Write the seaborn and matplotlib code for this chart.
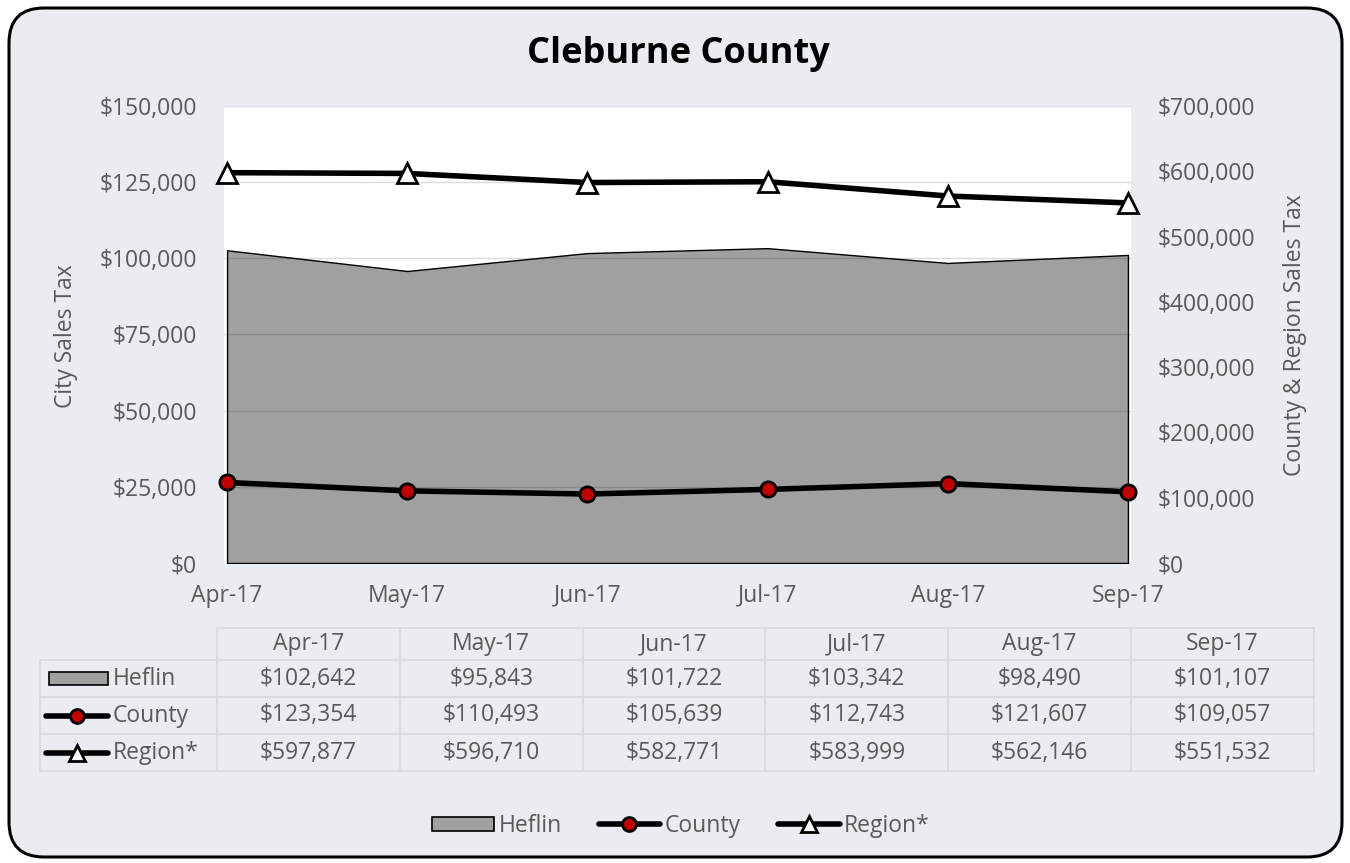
import matplotlib
matplotlib.use("Agg")
import matplotlib.pyplot as plt
import seaborn as sns
import pandas as pd
from matplotlib.patches import FancyBboxPatch, Rectangle, Patch
from matplotlib.lines import Line2D
from matplotlib.ticker import FuncFormatter

# ---------------- data ----------------
months = ["Apr-17", "May-17", "Jun-17", "Jul-17", "Aug-17", "Sep-17"]
heflin = [102642, 95843, 101722, 103342, 98490, 101107]
county = [123354, 110493, 105639, 112743, 121607, 109057]
region = [597877, 596710, 582771, 583999, 562146, 551532]
left_ticks = [0, 25000, 50000, 75000, 100000, 125000, 150000]
right_ticks = [0, 100000, 200000, 300000, 400000, 500000, 600000, 700000]
series_names = ["Heflin", "County", "Region*"]

sns.set_theme(style="white")
plt.rcParams['font.family'] = ['Open Sans', 'DejaVu Sans']

TXT = '#595959'
GRAY = '#A0A0A0'
RED = '#C00000'
FS = 16.5
W, H = 1350, 863


def fx(x):
    return x / W


def fy(y):
    return 1 - y / H


fig = plt.figure(figsize=(13.5, 8.63), dpi=100, facecolor='white')

# rounded background panel (inches coordinates)
bg = FancyBboxPatch((0.09, 0.06), 13.33, 8.49,
                    boxstyle="round,pad=0,rounding_size=0.35",
                    transform=fig.dpi_scale_trans, facecolor='#E9ECF1',
                    edgecolor='black', lw=2.2, zorder=-10)
fig.patches.append(bg)

df = pd.DataFrame({'x': range(len(months)), 'month': months,
                   'heflin': heflin, 'county': county, 'region': region})

ax = fig.add_axes([fx(224), fy(563), (1131 - 224) / W, (563 - 106) / H])
ax.set_facecolor('white')
ax.fill_between(df['x'], df['heflin'], 0, facecolor=GRAY, edgecolor='black',
                lw=1, zorder=1)
ax.set_ylim(0, 150000)
ax.set_xlim(-0.017, len(months) - 1 + 0.017)
ax.set_yticks(left_ticks)
ax.yaxis.set_major_formatter(FuncFormatter(lambda v, p: f"${v:,.0f}"))
ax.set_xticks(df['x'])
ax.set_xticklabels(months)
ax.yaxis.grid(True, color='black', alpha=0.14, lw=1)
ax.set_axisbelow(False)
ax.tick_params(axis='y', length=0, pad=19.5, labelsize=FS, labelcolor=TXT)
ax.tick_params(axis='x', length=0, pad=15, labelsize=FS, labelcolor=TXT)
for s in ax.spines.values():
    s.set_visible(False)

ax2 = ax.twinx()
sns.lineplot(data=df, x='x', y='county', ax=ax2, color='black', lw=4,
             marker='o', markersize=11, markerfacecolor=RED,
             markeredgecolor='black', markeredgewidth=2, zorder=5,
             clip_on=False)
sns.lineplot(data=df, x='x', y='region', ax=ax2, color='black', lw=4,
             marker='^', markersize=15, markerfacecolor='white',
             markeredgecolor='black', markeredgewidth=2, zorder=5,
             clip_on=False)
ax2.set_ylim(0, 700000)
ax2.set_yticks(right_ticks)
ax2.yaxis.set_major_formatter(FuncFormatter(lambda v, p: f"${v:,.0f}"))
ax2.tick_params(axis='y', length=0, pad=19.5, labelsize=FS, labelcolor=TXT)
ax2.set_ylabel('')
ax2.set_xlabel('')
ax.set_xlabel('')
ax.set_ylabel('')
for s in ax2.spines.values():
    s.set_visible(False)
ax2.set_xlim(ax.get_xlim())

# axis titles
fig.text(fx(66), fy(336), "City Sales Tax", rotation=90, ha='center',
         va='center', fontsize=FS, color=TXT)
fig.text(fx(1295), fy(335), "County & Region Sales Tax", rotation=90,
         ha='center', va='center', fontsize=FS, color=TXT)

# title
fig.text(fx(678), fy(54), "Cleburne County", ha='center', va='center',
         fontsize=26, fontweight='bold', color='black')

# ---------------- data table ----------------
LC = '#D9D9D9'
col_x = [217 + i * 182.8 for i in range(len(months) + 1)]
row_y = [628, 660, 697, 734, 771]
tf = fig.transFigure
fig.add_artist(Line2D([fx(col_x[0]), fx(col_x[-1])], [fy(row_y[0])] * 2,
                      color=LC, lw=1.2, transform=tf))
for yy in row_y[1:]:
    fig.add_artist(Line2D([fx(40), fx(col_x[-1])], [fy(yy)] * 2,
                          color=LC, lw=1.2, transform=tf))
for xx in col_x:
    fig.add_artist(Line2D([fx(xx)] * 2, [fy(row_y[0]), fy(row_y[-1])],
                          color=LC, lw=1.2, transform=tf))
fig.add_artist(Line2D([fx(40)] * 2, [fy(row_y[1]), fy(row_y[-1])],
                      color=LC, lw=1.2, transform=tf))

for i, m in enumerate(months):
    cx = (col_x[i] + col_x[i + 1]) / 2
    fig.text(fx(cx), fy((row_y[0] + row_y[1]) / 2), m, ha='center',
             va='center', fontsize=FS, color=TXT)
    for r, vals in enumerate([heflin, county, region]):
        cy = (row_y[r + 1] + row_y[r + 2]) / 2
        fig.text(fx(cx), fy(cy), f"${vals[i]:,.0f}", ha='center',
                 va='center', fontsize=FS, color=TXT)

# row legend keys
cy0 = (row_y[1] + row_y[2]) / 2
fig.add_artist(Rectangle((fx(49), fy(cy0 + 6.5)), 59 / W, 13 / H,
                         facecolor=GRAY, edgecolor='black', lw=1.2,
                         transform=tf))
cy1 = (row_y[2] + row_y[3]) / 2
fig.add_artist(Line2D([fx(46), fx(108)], [fy(cy1)] * 2, color='black', lw=4,
                      solid_capstyle='round', transform=tf))
fig.add_artist(Line2D([fx(77)], [fy(cy1)], marker='o', markersize=10,
                      markerfacecolor=RED, markeredgecolor='black',
                      markeredgewidth=2, transform=tf))
cy2 = (row_y[3] + row_y[4]) / 2
fig.add_artist(Line2D([fx(46), fx(108)], [fy(cy2)] * 2, color='black', lw=4,
                      solid_capstyle='round', transform=tf))
fig.add_artist(Line2D([fx(77)], [fy(cy2)], marker='^', markersize=12,
                      markerfacecolor='white', markeredgecolor='black',
                      markeredgewidth=2, transform=tf))
for r, name in enumerate(series_names):
    cy = (row_y[r + 1] + row_y[r + 2]) / 2
    fig.text(fx(113), fy(cy), name, ha='left', va='center', fontsize=FS,
             color=TXT)

# ---------------- bottom legend ----------------
handles = [
    Patch(facecolor=GRAY, edgecolor='black', lw=1.2),
    Line2D([], [], color='black', lw=4, marker='o', markersize=10,
           markerfacecolor=RED, markeredgecolor='black', markeredgewidth=2),
    Line2D([], [], color='black', lw=4, marker='^', markersize=12,
           markerfacecolor='white', markeredgecolor='black',
           markeredgewidth=2),
]
leg = fig.legend(handles, series_names, loc='center',
                 bbox_to_anchor=(fx(681), fy(826)), ncol=3, frameon=False,
                 fontsize=FS, labelcolor=TXT, handlelength=2.7,
                 handleheight=0.6, handletextpad=0.2, columnspacing=1.6)

fig.savefig("out.png", dpi=100, facecolor='white')
